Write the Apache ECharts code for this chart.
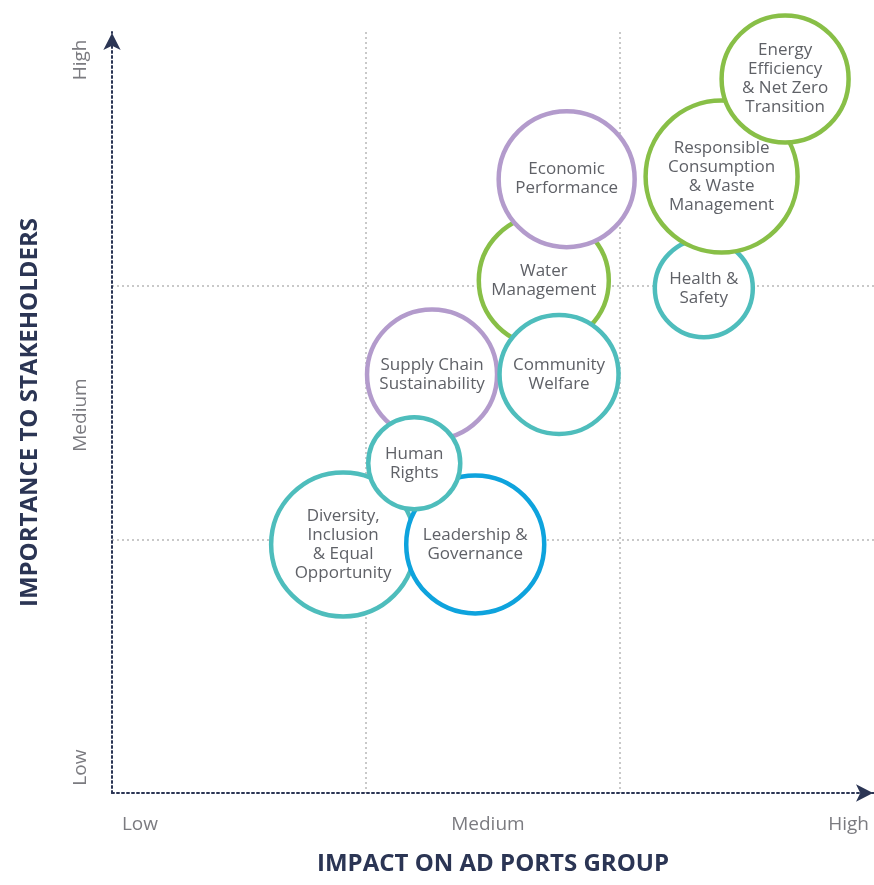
<!DOCTYPE html>
<html><head><meta charset="utf-8">
<script src="https://cdn.jsdelivr.net/npm/echarts@6/dist/echarts.min.js"></script>
<style>html,body{margin:0;padding:0;background:#fff}#c{width:874px;height:885px}</style>
</head><body><div id="c"></div>
<script>
// Drawn bottom-to-top (later items overlap earlier ones)
const topics = [
  'Health &\nSafety',
  'Responsible\nConsumption\n& Waste\nManagement',
  'Energy\nEfficiency\n& Net Zero\nTransition',
  'Water\nManagement',
  'Economic\nPerformance',
  'Supply Chain\nSustainability',
  'Community\nWelfare',
  'Diversity,\nInclusion\n& Equal\nOpportunity',
  'Leadership &\nGovernance',
  'Human\nRights'
];
const impact     = [2.33, 2.40, 2.65, 1.70, 1.79, 1.26, 1.76, 0.91, 1.43, 1.19];
const importance = [1.99, 2.43, 2.815, 2.02, 2.42, 1.65, 1.65, 0.98, 0.98, 1.30];
const bubbleSize = [98, 152, 127, 130, 136, 130, 119, 144, 138, 92];
const pillar     = ['social','environment','environment','environment','economic','economic','social','social','governance','social'];
const levelLabels = ['Low', 'Medium', 'High'];
const xLevelPos = [0.11, 1.48, 2.90];
const yLevelPos = [0.10, 1.49, 2.89];

const pillarColor = {environment:'#88bf47', economic:'#b39bcc', social:'#4ebdbc', governance:'#0ea3dd'};
const FONT = '"Open Sans", sans-serif';

const chart = echarts.init(document.getElementById('c'), null, {renderer:'canvas'});
const axisLineStyle = {color:'#2b3554', width:2, type:[2,3]};
const splitStyle = {color:'#c9c9c9', width:2, type:[2,3]};
const labelFmt = (positions) => (v) => {
  const i = positions.findIndex(p => Math.abs(p - v) < 1e-6);
  return i >= 0 ? levelLabels[i] : '';
};
chart.setOption({
  animation:false,
  backgroundColor:'#fff',
  grid:{left:112, right:0, top:32, bottom:92, containLabel:false},
  xAxis:{
    type:'value', min:0, max:3, interval:1,
    axisLine:{show:true, onZero:false, symbol:['none','arrow'], symbolSize:[13,17], symbolOffset:[0,-1], lineStyle:axisLineStyle},
    axisTick:{show:false},
    axisLabel:{show:true, customValues:xLevelPos, formatter:labelFmt(xLevelPos), color:'#7b7b80', fontSize:19, fontFamily:FONT, margin:22},
    splitLine:{show:true, showMinLine:false, showMaxLine:false, lineStyle:splitStyle},
    name:'IMPACT ON AD PORTS GROUP', nameLocation:'middle', nameGap:59,
    nameTextStyle:{color:'#2b3554', fontSize:24, fontWeight:'bold', fontFamily:FONT}
  },
  yAxis:{
    type:'value', min:0, max:3, interval:1,
    axisLine:{show:true, onZero:false, symbol:['none','arrow'], symbolSize:[13,17], symbolOffset:[0,-1], lineStyle:axisLineStyle},
    axisTick:{show:false},
    axisLabel:{show:true, customValues:yLevelPos, formatter:labelFmt(yLevelPos), rotate:90, color:'#7b7b80', fontSize:19, fontFamily:FONT, margin:22},
    splitLine:{show:true, showMinLine:false, showMaxLine:false, lineStyle:splitStyle},
    name:'IMPORTANCE TO STAKEHOLDERS', nameLocation:'middle', nameGap:70,
    nameTextStyle:{color:'#2b3554', fontSize:24, fontWeight:'bold', fontFamily:FONT}
  },
  series:[{
    type:'scatter',
    clip:false,
    z:3,
    symbol:'circle',
    data: topics.map((t, i) => ({
      name:t,
      value:[impact[i], importance[i]],
      symbolSize:bubbleSize[i],
      itemStyle:{color:'#ffffff', borderColor:pillarColor[pillar[i]], borderWidth:4.5, opacity:1}
    })),
    label:{show:true, position:'inside', formatter:'{b}', color:'#5f6167', fontSize:17, lineHeight:19, fontFamily:FONT, align:'center'},
    emphasis:{disabled:true}
  }]
});
</script>
</body></html>
